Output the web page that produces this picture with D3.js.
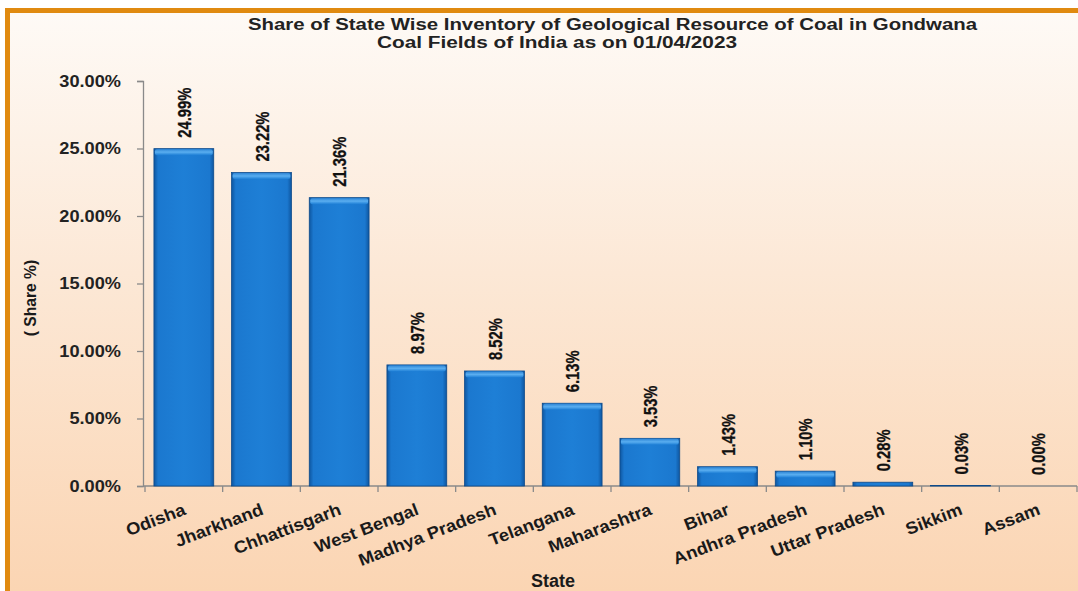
<!DOCTYPE html>
<html>
<head>
<meta charset="utf-8">
<script src="https://cdn.jsdelivr.net/npm/d3@7"></script>
<style>
  html, body { margin: 0; padding: 0; background: #ffffff; }
  svg { display: block; }
</style>
</head>
<body>
<svg id="chart" width="1078" height="591"></svg>
<script>
// State-wise share of geological coal resources (Gondwana coal fields, 01/04/2023)
const states = ["Odisha", "Jharkhand", "Chhattisgarh", "West Bengal", "Madhya Pradesh",
  "Telangana", "Maharashtra", "Bihar", "Andhra Pradesh", "Uttar Pradesh", "Sikkim", "Assam"];
const shares = [24.99, 23.22, 21.36, 8.97, 8.52, 6.13, 3.53, 1.43, 1.10, 0.28, 0.03, 0.00];
const yTicks = [0, 5, 10, 15, 20, 25, 30];
const titleLines = [
  "Share of State Wise Inventory of Geological Resource of Coal in Gondwana",
  "Coal Fields of India as on 01/04/2023"
];

const svg = d3.select("#chart");
const W = 1078, H = 591;
const defs = svg.append("defs");

// Background panel gradient
const bg = defs.append("linearGradient").attr("id", "bg")
  .attr("x1", 0).attr("y1", 0).attr("x2", 0).attr("y2", 1);
bg.append("stop").attr("offset", "0%").attr("stop-color", "#fefaf6");
bg.append("stop").attr("offset", "45%").attr("stop-color", "#fce8d6");
bg.append("stop").attr("offset", "100%").attr("stop-color", "#fbd5b3");

// Bar body gradient (darker edges) and top bevel
const barG = defs.append("linearGradient").attr("id", "barG")
  .attr("x1", 0).attr("y1", 0).attr("x2", 1).attr("y2", 0);
barG.append("stop").attr("offset", "0%").attr("stop-color", "#0e56a0");
barG.append("stop").attr("offset", "7%").attr("stop-color", "#1b78cf");
barG.append("stop").attr("offset", "50%").attr("stop-color", "#1e7fd6");
barG.append("stop").attr("offset", "93%").attr("stop-color", "#1b78cf");
barG.append("stop").attr("offset", "100%").attr("stop-color", "#0e56a0");
const topG = defs.append("linearGradient").attr("id", "topG")
  .attr("x1", 0).attr("y1", 0).attr("x2", 0).attr("y2", 1);
topG.append("stop").attr("offset", "0%").attr("stop-color", "#2f86d6");
topG.append("stop").attr("offset", "50%").attr("stop-color", "#5aaef0");
topG.append("stop").attr("offset", "100%").attr("stop-color", "#1e7fd6");

// Panel with orange frame (top and left edges visible)
svg.append("rect").attr("x", 5).attr("y", 8).attr("width", W - 5).attr("height", H - 8)
  .attr("fill", "#e08a10");
svg.append("rect").attr("x", 10).attr("y", 13).attr("width", W - 10).attr("height", H - 13)
  .attr("fill", "url(#bg)");

// Scales
const x = d3.scaleBand().domain(states).range([145, 1077])
  .paddingInner(0.23).paddingOuter(0.115);
const y = d3.scaleLinear().domain([0, 30]).range([486, 81]);

const axisColor = "#8a8a8a";
const sans = "Liberation Sans, Arial, sans-serif";

// Y axis
const yAxis = svg.append("g").attr("transform", `translate(143,0)`)
  .call(d3.axisLeft(y).tickValues(yTicks).tickSize(6).tickPadding(0)
    .tickFormat(d => d.toFixed(2) + "%"));
yAxis.select(".domain").attr("stroke", axisColor).attr("stroke-width", 1.3);
yAxis.selectAll(".tick line").attr("stroke", axisColor).attr("stroke-width", 1.3);
yAxis.selectAll(".tick text")
  .attr("x", null)
  .attr("transform", "translate(-22,0) scale(1.07,1)")
  .attr("font-family", sans)
  .attr("font-weight", "bold").attr("font-size", 17).attr("fill", "#222");

// X axis line with ticks on band boundaries
svg.append("line").attr("x1", 143).attr("x2", 1077)
  .attr("y1", y(0)).attr("y2", y(0))
  .attr("stroke", axisColor).attr("stroke-width", 1.3);
const boundaries = d3.range(states.length + 1).map(i => x.range()[0] + i * x.step());
svg.append("g").selectAll("line").data(boundaries).join("line")
  .attr("x1", d => d).attr("x2", d => d)
  .attr("y1", y(0)).attr("y2", y(0) + 6)
  .attr("stroke", axisColor).attr("stroke-width", 1.3);

// Bars
const bars = svg.append("g").selectAll("g").data(states).join("g");
bars.append("rect")
  .attr("x", d => x(d))
  .attr("y", (d, i) => y(shares[i]))
  .attr("width", x.bandwidth())
  .attr("height", (d, i) => y(0) - y(shares[i]))
  .attr("fill", "url(#barG)")
  .attr("stroke", "#0d4a8a").attr("stroke-width", 0.8);
bars.filter((d, i) => y(0) - y(shares[i]) > 6).append("rect")
  .attr("x", d => x(d) + 1)
  .attr("y", (d, i) => y(shares[i]) + 0.5)
  .attr("width", x.bandwidth() - 2)
  .attr("height", 6)
  .attr("rx", 2)
  .attr("fill", "url(#topG)");

// Value labels, rotated vertical above each bar (condensed)
svg.append("g").selectAll("text").data(states).join("text")
  .attr("transform", (d, i) =>
    `translate(${x(d) + x.bandwidth() / 2 + 7},${y(shares[i]) - 11}) rotate(-90) scale(0.82,1)`)
  .attr("text-anchor", "start")
  .attr("font-family", sans)
  .attr("font-weight", "bold").attr("font-size", 18).attr("fill", "#111")
  .attr("stroke", "#111").attr("stroke-width", 0.3)
  .text((d, i) => shares[i].toFixed(2) + "%");

// Category labels, slanted
svg.append("g").selectAll("text").data(states).join("text")
  .attr("transform", d => `translate(${x(d) + x.bandwidth() / 2 + 3},514) rotate(-21) scale(1.08,1)`)
  .attr("text-anchor", "end")
  .attr("font-family", sans)
  .attr("font-weight", "bold").attr("font-size", 17).attr("fill", "#1a1a1a")
  .text(d => d);

// Axis titles
svg.append("text")
  .attr("transform", "translate(36,298) rotate(-90) scale(0.92,1)")
  .attr("text-anchor", "middle")
  .attr("font-family", sans)
  .attr("font-weight", "bold").attr("font-size", 17).attr("fill", "#1a1a1a")
  .text("( Share %)");
svg.append("text")
  .attr("x", 553).attr("y", 587)
  .attr("text-anchor", "middle")
  .attr("font-family", sans)
  .attr("font-weight", "bold").attr("font-size", 18).attr("fill", "#1a1a1a")
  .text("State");

// Chart title: two lines stretched to their set widths
const titleX = [248, 377];
const titleY = [30, 48];
const titleW = [729, 360];
svg.append("g").selectAll("text").data(titleLines).join("text")
  .attr("x", (d, i) => titleX[i]).attr("y", (d, i) => titleY[i])
  .attr("textLength", (d, i) => titleW[i])
  .attr("lengthAdjust", "spacingAndGlyphs")
  .attr("font-family", sans)
  .attr("font-weight", "bold").attr("font-size", 16).attr("fill", "#222")
  .text(d => d);
</script>
</body>
</html>
